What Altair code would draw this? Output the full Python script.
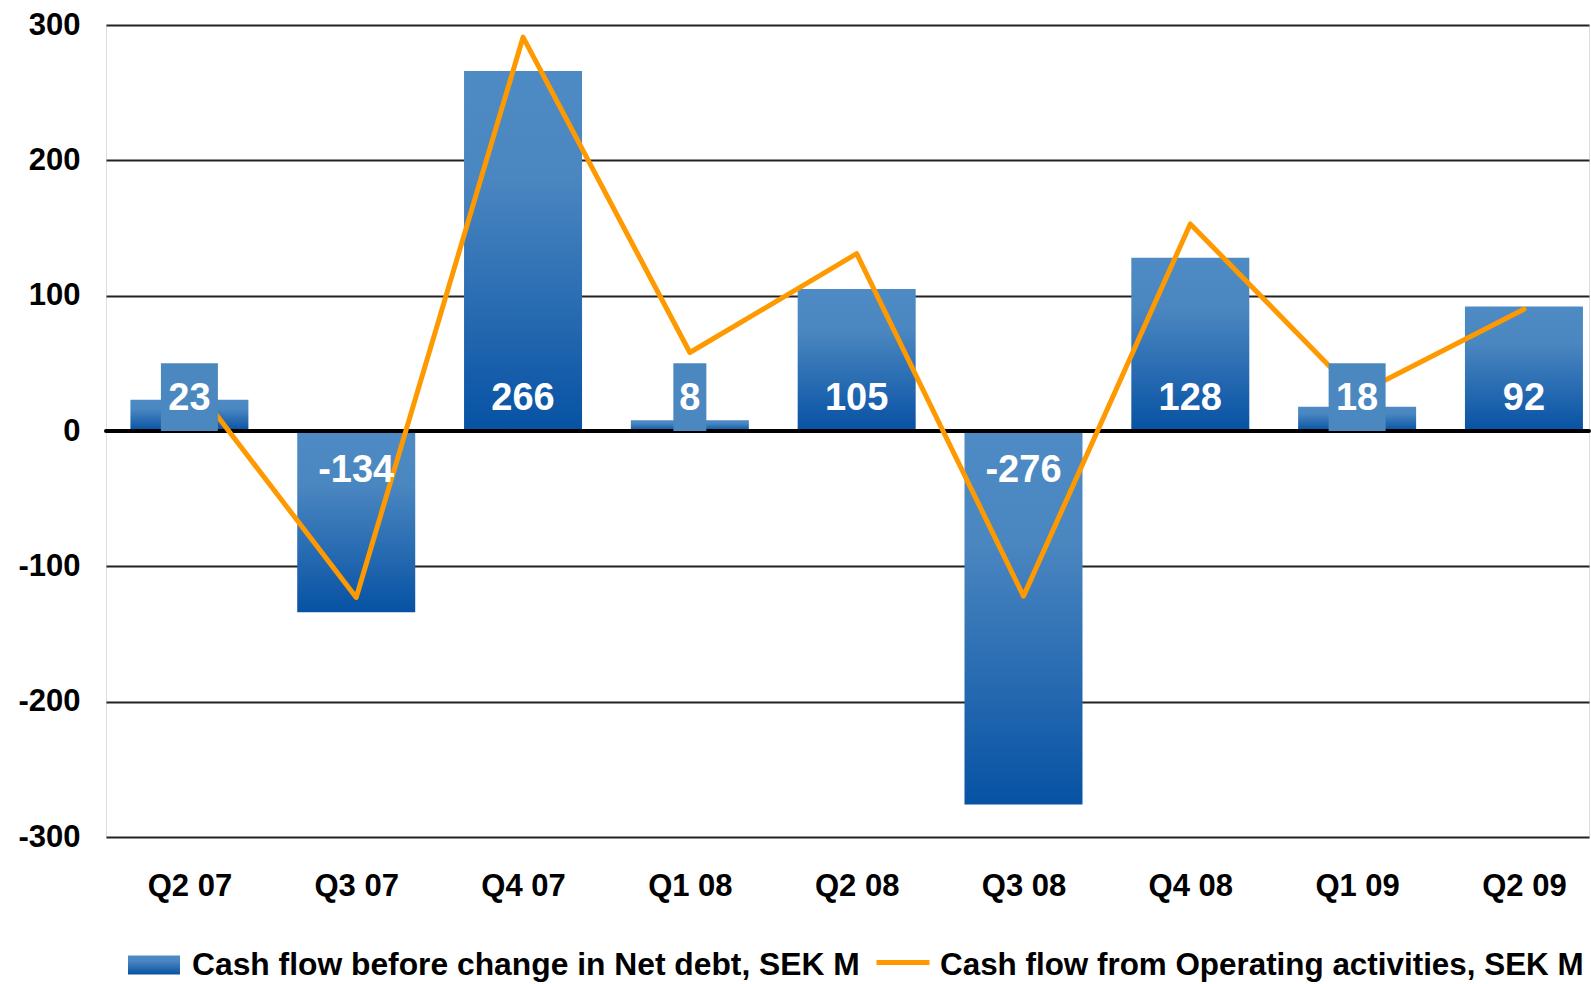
import json
import altair as alt
import pandas as pd

quarters = ["Q2 07", "Q3 07", "Q4 07", "Q1 08", "Q2 08", "Q3 08", "Q4 08", "Q1 09", "Q2 09"]
net_debt_cf = [23, -134, 266, 8, 105, -276, 128, 18, 92]
operating_cf = [38, -123, 291, 58, 131, -122, 153, 27, 90]
y_ticks = [-300, -200, -100, 0, 100, 200, 300]

bar_name = "Cash flow before change in Net debt, SEK M"
line_name = "Cash flow from Operating activities, SEK M"

df = pd.DataFrame({
    "idx": list(range(len(quarters))),
    "quarter": quarters,
    "bar": net_debt_cf,
    "line": operating_cf,
})

FONT = "Liberation Sans"
TOP_C = "#4e8bc4"
MID_C = "#4a86c0"
BOT_C = "#0752a4"
grad = alt.LinearGradient(
    gradient="linear",
    stops=[alt.GradientStop(color=TOP_C, offset=0),
           alt.GradientStop(color=MID_C, offset=0.3),
           alt.GradientStop(color=BOT_C, offset=1)],
    x1=0, x2=0, y1=0, y2=1,
)
legend_grad = alt.ExprRef(
    "{gradient: 'linear', x1: 0, y1: 0, x2: 0, y2: 1, stops: ["
    f"{{offset: 0, color: '{TOP_C}'}}, {{offset: 0.3, color: '{MID_C}'}}, "
    f"{{offset: 1, color: '{BOT_C}'}}]}}"
)

xscale = alt.Scale(domain=[-0.5, 8.39], nice=False, zero=False, padding=0)
yscale = alt.Scale(domain=[-300, 300], nice=False, zero=False, padding=0)
label_expr = json.dumps(quarters) + "[datum.value]"

base = alt.Chart(df).transform_calculate(
    zero="0", boxTop="50",
    lbl="'' + datum.bar",
    boxw="9 + 24 * length('' + datum.bar)")

xenc = alt.X("idx:Q", scale=xscale, title=None,
             axis=alt.Axis(values=list(range(len(quarters))), labelExpr=label_expr,
                           grid=False, domain=False, ticks=False, labelFont=FONT,
                           labelFontSize=31, labelFontWeight="bold", labelColor="black",
                           labelPadding=34, labelBaseline="top"))

bars = base.mark_bar(width=118, color=grad).encode(
    x=xenc,
    y=alt.Y("bar:Q", scale=yscale, title=None,
            axis=alt.Axis(values=y_ticks, grid=True, gridColor="#222222", gridWidth=2,
                          domain=False, ticks=False, labelFont=FONT, labelFontSize=31,
                          labelFontWeight="bold", labelColor="black", labelPadding=26,
                          labelExpr="'' + datum.value")),
    y2=alt.Y2("zero:Q"),
    opacity=alt.Opacity("series:N", scale=alt.Scale(range=[1]),
                        legend=alt.Legend(
                            title=None, orient="none", legendX=22, legendY=914,
                            symbolType="M-1,-0.365L1,-0.365L1,0.365L-1,0.365Z",
                            symbolSize=2704, symbolStrokeWidth=0,
                            symbolFillColor=legend_grad,
                            labelFont=FONT, labelFontSize=31.8, labelFontWeight="bold",
                            labelColor="black", labelLimit=0, labelOffset=12, padding=0)),
).transform_calculate(series=f"'{bar_name}'")

zero_line = alt.Chart(pd.DataFrame({"z": [0]})).mark_rule(
    color="black", strokeWidth=4, strokeCap="round").encode(
    y=alt.Y("z:Q", scale=yscale, title=None))

line = base.mark_line(strokeWidth=5, strokeCap="round", strokeJoin="round").encode(
    x=alt.X("idx:Q", scale=xscale, title=None),
    y=alt.Y("line:Q", scale=yscale, title=None),
    color=alt.Color("series2:N", scale=alt.Scale(range=["#ff9900"]),
                    legend=alt.Legend(
                        title=None, orient="none", legendX=768, legendY=912,
                        symbolType="M-1,-0.13L1,-0.13", symbolSize=2809,
                        symbolStrokeWidth=5,
                        labelFont=FONT, labelFontSize=31.4, labelFontWeight="bold",
                        labelColor="black", labelLimit=0, labelOffset=8, padding=0)),
).transform_calculate(series2=f"'{line_name}'")

boxes = base.transform_filter("datum.bar > 0 && datum.bar < 50").mark_bar(
    color="#4b88c0").encode(
    x=alt.X("idx:Q", scale=xscale, title=None),
    y=alt.Y("boxTop:Q", scale=yscale, title=None),
    y2="zero:Q",
    size=alt.Size("boxw:Q", scale=None, legend=None),
)

txt_style = dict(font=FONT, fontSize=38, fontWeight="bold", color="white",
                 baseline="alphabetic", align="center")
pos_text = base.transform_filter("datum.bar > 0").mark_text(dy=-21, **txt_style).encode(
    x=alt.X("idx:Q", scale=xscale, title=None),
    y=alt.Y("zero:Q", scale=yscale, title=None),
    text="lbl:N",
)
neg_text = base.transform_filter("datum.bar < 0").mark_text(dy=51, **txt_style).encode(
    x=alt.X("idx:Q", scale=xscale, title=None),
    y=alt.Y("zero:Q", scale=yscale, title=None),
    text="lbl:N",
)

chart = alt.layer(bars, zero_line, line, boxes, pos_text, neg_text).resolve_scale(
    color="independent", opacity="independent"
).properties(
    width=1483, height=812,
    autosize=alt.AutoSizeParams(type="none"),
    padding={"left": 106, "top": 25, "right": 2, "bottom": 147},
).configure_view(stroke=None).configure(background="white")

chart.save("out.html", embed_options={"renderer": "svg", "actions": False})
